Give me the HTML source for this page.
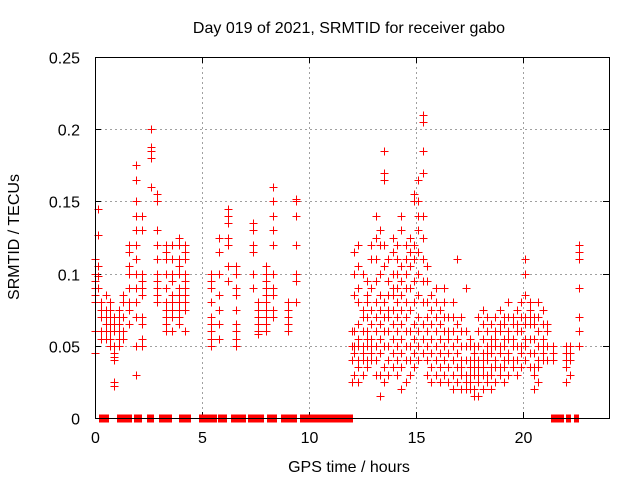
<!DOCTYPE html>
<html><head><meta charset="utf-8"><style>
html,body{margin:0;padding:0;background:#fff}
svg{display:block;font-family:"Liberation Sans",sans-serif}
</style></head><body>
<svg id="chart" width="640" height="480">
<text x="349" y="33" font-size="16" text-anchor="middle">Day 019 of 2021, SRMTID for receiver gabo</text>
<text x="0" y="0" font-size="16" text-anchor="middle" transform="translate(19,237) rotate(-90)">SRMTID / TECUs</text>
<text x="349" y="472" font-size="16" text-anchor="middle">GPS time / hours</text>
<g id="grid" shape-rendering="crispEdges"></g>
<g id="ticks"></g>
<g id="marks" shape-rendering="crispEdges"></g>
<rect x="95.5" y="57.5" width="514" height="361" fill="none" stroke="#000" stroke-width="1" shape-rendering="crispEdges"/>
</svg>
<script>
const xTicks=[0,5,10,15,20];
const yTicks=[0,0.05,0.1,0.15,0.2,0.25];
const yTickLabels=["0","0.05","0.1","0.15","0.2","0.25"];
const colTimes=[0.0,0.15,0.3,0.5,0.7,0.9,1.1,1.3,1.6,1.9,2.2,2.6,2.9,3.3,3.6,3.9,4.2,5.4,5.8,6.2,6.6,7.4,7.6,8.0,8.3,9.0,9.4,12.0,12.1,12.3,12.5,12.7,12.9,13.1,13.3,13.5,13.7,13.9,14.1,14.3,14.5,14.7,14.9,15.1,15.3,15.5,15.7,15.9,16.1,16.3,16.5,16.7,16.9,17.1,17.3,17.5,17.7,17.9,18.1,18.3,18.5,18.7,18.9,19.1,19.3,19.5,19.7,19.9,20.1,20.3,20.5,20.7,20.9,21.1,21.4,22.0,22.2,22.6];
const colValues=[
[.045,.06,.08,.085,.09,.095,.1,.11],
[.145,.127,.105,.098,.09],
[.07,.075,.08,.06,.055],
[.085,.075,.07,.065,.06,.055],
[.08,.075,.07,.065,.06,.055,.05],
[.07,.065,.06,.05,.045,.042,.04,.025,.022],
[.075,.07,.065,.06,.055,.05],
[.085,.08,.07,.06,.055],
[.12,.115,.105,.1,.09,.08,.075,.065],
[.175,.165,.15,.14,.13,.12,.11,.1,.09,.08,.07,.05,.03],
[.14,.13,.1,.095,.09,.085,.07,.065,.055,.05],
[.2,.188,.185,.18,.16],
[.155,.15,.13,.12,.11,.1,.095,.09,.085,.08],
[.12,.115,.11,.1,.09,.08,.075,.07,.065,.06],
[.12,.11,.1,.095,.085,.08,.075,.07,.06],
[.125,.12,.11,.105,.1,.09,.085,.08,.075,.07,.065],
[.12,.115,.11,.1,.095,.09,.085,.08,.075,.06],
[.1,.095,.09,.08,.07,.065,.06,.055,.05],
[.125,.115,.1,.085,.075,.065,.055],
[.145,.14,.135,.125,.12,.105,.095],
[.105,.1,.09,.085,.075,.065,.06,.055,.05],
[.135,.13,.12,.115,.1,.09],
[.08,.075,.07,.065,.06,.058],
[.105,.1,.095,.09,.085,.08,.075,.07,.065,.06],
[.16,.15,.14,.13,.12,.1,.09,.085,.075,.07],
[.08,.075,.07,.065,.06],
[.152,.15,.14,.12,.1,.095,.08],
[.025,.04,.05,.06],
[.03,.045,.05,.06,.085,.1,.115],
[.025,.035,.04,.05,.055,.065,.08,.09,.105,.12],
[.03,.04,.045,.05,.06,.07,.075,.1],
[.035,.04,.05,.055,.06,.07,.08,.085,.095],
[.04,.045,.05,.055,.065,.075,.09,.11,.12],
[.03,.04,.05,.06,.07,.08,.095,.11,.125,.14],
[.015,.03,.045,.055,.065,.075,.085,.1,.12,.13],
[.025,.035,.05,.06,.07,.08,.105,.12,.165,.17,.185],
[.03,.04,.05,.06,.07,.075,.085,.095,.11],
[.035,.045,.055,.065,.075,.085,.09,.1,.115,.125],
[.03,.04,.05,.06,.07,.08,.09,.1,.11,.12],
[.02,.035,.045,.055,.065,.075,.085,.095,.105,.13,.14],
[.025,.04,.05,.06,.07,.08,.09,.1,.11,.12],
[.03,.04,.05,.06,.075,.09,.105,.115,.125],
[.035,.045,.055,.065,.08,.095,.11,.12,.15,.155],
[.04,.05,.06,.07,.085,.1,.115,.13,.14,.15,.165],
[.045,.055,.065,.08,.095,.11,.125,.14,.17,.185,.205,.21],
[.03,.04,.05,.06,.07,.08,.095,.105],
[.025,.035,.045,.055,.065,.075,.085],
[.03,.04,.05,.06,.07,.08,.09],
[.025,.035,.045,.055,.065,.075],
[.03,.04,.05,.06,.07,.08,.09],
[.025,.035,.045,.055,.06,.07],
[.02,.03,.04,.05,.06,.07,.08],
[.025,.035,.045,.055,.065,.11],
[.02,.03,.035,.04,.05,.06,.07],
[.02,.025,.03,.04,.05,.06,.09],
[.02,.025,.03,.035,.04,.05,.055],
[.015,.02,.03,.035,.04,.045,.05],
[.015,.025,.03,.035,.04,.05,.06,.07],
[.02,.03,.035,.04,.045,.055,.065,.075],
[.025,.03,.04,.045,.05,.06,.07],
[.02,.03,.035,.045,.05,.055,.065],
[.025,.035,.04,.05,.055,.06,.07],
[.03,.035,.045,.05,.06,.065,.075],
[.025,.035,.04,.05,.055,.065,.07],
[.03,.04,.045,.055,.06,.07,.08],
[.035,.04,.05,.055,.065,.07],
[.03,.04,.05,.06,.065,.075],
[.035,.045,.05,.06,.07,.08],
[.04,.05,.055,.065,.07,.085,.1,.11],
[.035,.045,.055,.065,.07,.075,.08],
[.02,.03,.035,.045,.055,.065,.07],
[.025,.035,.04,.05,.06,.07,.08],
[.04,.045,.05,.055,.065,.075],
[.04,.05,.06,.065],
[.04,.045,.05],
[.025,.035,.04,.045,.05],
[.03,.04,.045,.05],
[.05,.06,.07,.09,.11,.115,.12]
];
const zeroStarts=[0.19,1.03,1.82,2.43,2.99,3.93,4.86,5.75,6.36,7.15,8.04,8.69,9.58,21.31,22.01,22.38];
const zeroEnds=[0.61,1.68,2.15,2.71,3.55,4.44,5.65,6.12,7.01,7.85,8.46,9.39,12.0,21.87,22.2,22.57];

const X0=95,X1=609,Y0=418,Y1=57,XMAX=24,YMAX=0.25;
function xs(t){return X0+(t/XMAX)*(X1-X0);}
function ys(v){return Y0-(v/YMAX)*(Y0-Y1);}
const NS="http://www.w3.org/2000/svg";
const grid=document.getElementById('grid'),ticks=document.getElementById('ticks'),marks=document.getElementById('marks');
function line(p,x1,y1,x2,y2,st,dash){const l=document.createElementNS(NS,'line');l.setAttribute('x1',x1);l.setAttribute('y1',y1);l.setAttribute('x2',x2);l.setAttribute('y2',y2);l.setAttribute('stroke',st);l.setAttribute('shape-rendering','crispEdges');if(dash)l.setAttribute('stroke-dasharray',dash);p.appendChild(l);return l;}
yTicks.forEach((v,i)=>{const y=Math.round(ys(v))+0.5;
 if(i>0&&i<yTicks.length-1){const g=line(grid,X0,y,X1,y,'#a0a0a0','2,3');
 
 }
 line(ticks,X0,y,X0+6,y,'#000');line(ticks,X1-6,y,X1,y,'#000');
 const t=document.createElementNS(NS,'text');t.setAttribute('x',X0-15);t.setAttribute('y',y+6);t.setAttribute('font-size','16');t.setAttribute('text-anchor','end');t.textContent=yTickLabels[i];
 
 
 ticks.appendChild(t);});
xTicks.forEach(v=>{const x=Math.round(xs(v))+0.5;
 if(v>0){const g=line(grid,x,Y1,x,Y0,'#a0a0a0','2,3');
 
 }
 line(ticks,x,Y0,x,Y0-6,'#000');line(ticks,x,Y1,x,Y1+6,'#000');
 const t=document.createElementNS(NS,'text');t.setAttribute('x',x);t.setAttribute('y',Y0+25);t.setAttribute('font-size','16');t.setAttribute('text-anchor','middle');t.textContent=String(v);
 
 
 ticks.appendChild(t);});
function plus(t,v){const x=Math.round(xs(t))+0.5,y=Math.round(ys(v))+0.5;
 const p=document.createElementNS(NS,'path');p.setAttribute('d','M'+(x-4)+' '+y+'H'+(x+4)+'M'+x+' '+(y-4)+'V'+(y+4));p.setAttribute('stroke','#ff0000');p.setAttribute('stroke-width','1');p.setAttribute('fill','none');p.setAttribute('shape-rendering','crispEdges');
 
 
 marks.appendChild(p);}
colTimes.forEach((t,i)=>colValues[i].forEach(v=>plus(t,v)));
zeroStarts.forEach((s,i)=>{for(let t=s;t<=zeroEnds[i]+1e-6;t+=0.03)plus(t,0);});
</script>
</body></html>
